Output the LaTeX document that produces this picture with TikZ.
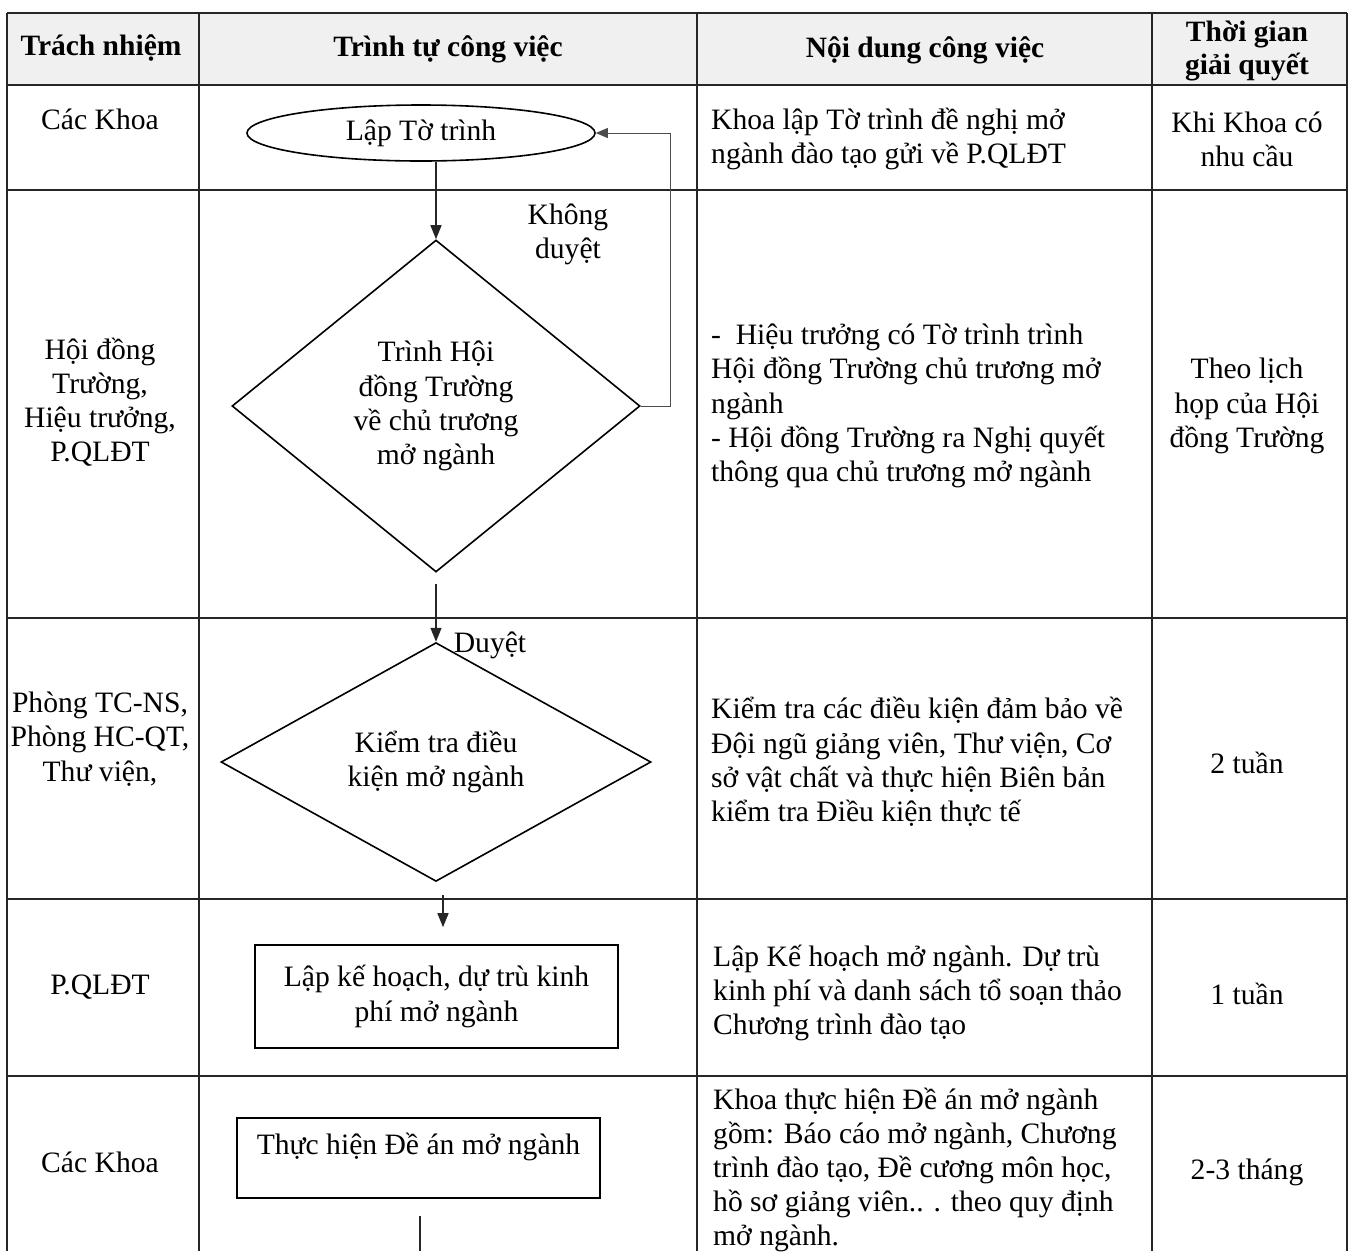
\documentclass[tikz,border=0pt]{standalone}
\usepackage{fontspec}
\setmainfont{Liberation Serif}
\usetikzlibrary{shapes.geometric,arrows.meta}

\tikzset{
  gridline/.style={line width=1.6pt, black!85},
  flowshape/.style={draw, line width=1.6pt, inner sep=0pt, align=center},
  flowline/.style={line width=1.4pt, black!85},
  flowarrow/.style={flowline, -{Triangle[length=14pt,width=11pt]}},
  backarrow/.style={line width=1pt, gray!60!black, -{Triangle[length=12pt,width=10pt]}},
  headtext/.style={font=\fontsize{29.5}{33}\selectfont\bfseries, align=center},
  celltext/.style={align=center},
  worktext/.style={anchor=west, align=left, inner sep=0pt}
}

\begin{document}
\begin{tikzpicture}[x=1pt, y=-1pt, font=\fontsize{29.6}{34.2}\selectfont]
        \useasboundingbox (0,0) rectangle (1351,1251);

        % Header shading
        \fill[gray!12] (7,13) rectangle (1347,85);

        % Table grid
        \foreach \gx in {7,199,697,1152,1347}
          \draw[gridline] (\gx,13) -- (\gx,1251);
        \foreach \gy in {13,85,190,618,899,1076}
          \draw[gridline] (7,\gy) -- (1347,\gy);

        % Header
        \node[headtext] (hTrach) at (101,48) {Trách nhiệm};
        \node[headtext] (hTrinh) at (448,49) {Trình tự công việc};
        \node[headtext] (hNoi) at (925,50) {Nội dung công việc};
        \node[headtext] (hTime) at (1247,51) {Thời gian\\giải quyết};

        % Responsibility column
        \node[celltext] (rKhoa) at (100,119) {Các Khoa};
        \node[celltext] (rHoi) at (100,402) {Hội đồng\\Trường,\\Hiệu trưởng,\\P.QLĐT};
        \node[celltext] (rPhong) at (100,739) {Phòng TC-NS,\\Phòng HC-QT,\\Thư viện,};
        \node[celltext] (rQL) at (100,987) {P.QLĐT};
        \node[celltext] (rKhoaB) at (100,1162) {Các Khoa};

        % Flow chart
        \node[flowshape, ellipse, minimum width=348pt, minimum height=56pt] (lap) at (421,133) {Lập Tờ trình};
        \node[flowshape, diamond, minimum width=408pt, minimum height=332pt] (trinh) at (436,406) {Trình Hội\\đồng Trường\\về chủ trương\\mở ngành};
        \node[flowshape, diamond, minimum width=430pt, minimum height=225pt] (kiem) at (436,762) {Kiểm tra điều\\kiện mở ngành};
        \node[flowshape, rectangle, minimum width=363pt, minimum height=103pt] (keHoach) at (436.5,996.5) {Lập kế hoạch, dự trù kinh\\phí mở ngành};
        \node[flowshape, rectangle, minimum width=363pt, minimum height=80pt, text height=22pt, text depth=30pt] (deAn) at (418.5,1158) {Thực hiện Đề án mở ngành};
        \coordinate (deAnOut) at (420,1251);

        \draw[flowarrow] (lap.south -| trinh.north) -- (trinh.north);
        \draw[backarrow] (trinh.east) -- ++(30,0) |- (lap.east);
        \node[celltext] (khong) at (568,234) {Không\\duyệt};
        \draw[flowarrow] ([yshift=-11pt]trinh.south) -- (kiem.north);
        \node (duyet) at (490,645) {Duyệt};
        \draw[flowarrow] ([xshift=7pt,yshift=-13pt]kiem.south) -- ([xshift=6.5pt,yshift=17pt]keHoach.north);
        \draw[flowline] ([xshift=1.5pt,yshift=-17pt]deAn.south) -- (deAnOut);

        % Work content column
        \node[worktext] (cLap) at (711,139) {Khoa lập Tờ trình đề nghị mở\\ngành đào tạo gửi về P.QLĐT};
        \node[worktext] (cHoi) at (711,406) {-\ \ Hiệu trưởng có Tờ trình trình\\Hội đồng Trường chủ trương mở\\ngành\\- Hội đồng Trường ra Nghị quyết\\thông qua chủ trương mở ngành};
        \node[worktext] (cKiem) at (711,762) {Kiểm tra các điều kiện đảm bảo về\\Đội ngũ giảng viên, Thư viện, Cơ\\sở vật chất và thực hiện Biên bản\\kiểm tra Điều kiện thực tế};
        \node[worktext] (cKe) at (713,993) {Lập Kế hoạch mở ngành. Dự trù\\kinh phí và danh sách tổ soạn thảo\\Chương trình đào tạo};
        \node[worktext] (cDe) at (713,1170) {Khoa thực hiện Đề án mở ngành\\gồm: Báo cáo mở ngành, Chương\\trình đào tạo, Đề cương môn học,\\hồ sơ giảng viên.. . theo quy định\\mở ngành.};

        % Time column
        \node[celltext] (tKhi) at (1247,139) {Khi Khoa có\\nhu cầu};
        \node[celltext] (tTheo) at (1247,406) {Theo lịch\\họp của Hội\\đồng Trường};
        \node[celltext] (tHai) at (1247,763) {2 tuần};
        \node[celltext] (tMot) at (1247,994) {1 tuần};
        \node[celltext] (tThang) at (1247,1172) {2-3 tháng};
    \end{tikzpicture}
\end{document}
